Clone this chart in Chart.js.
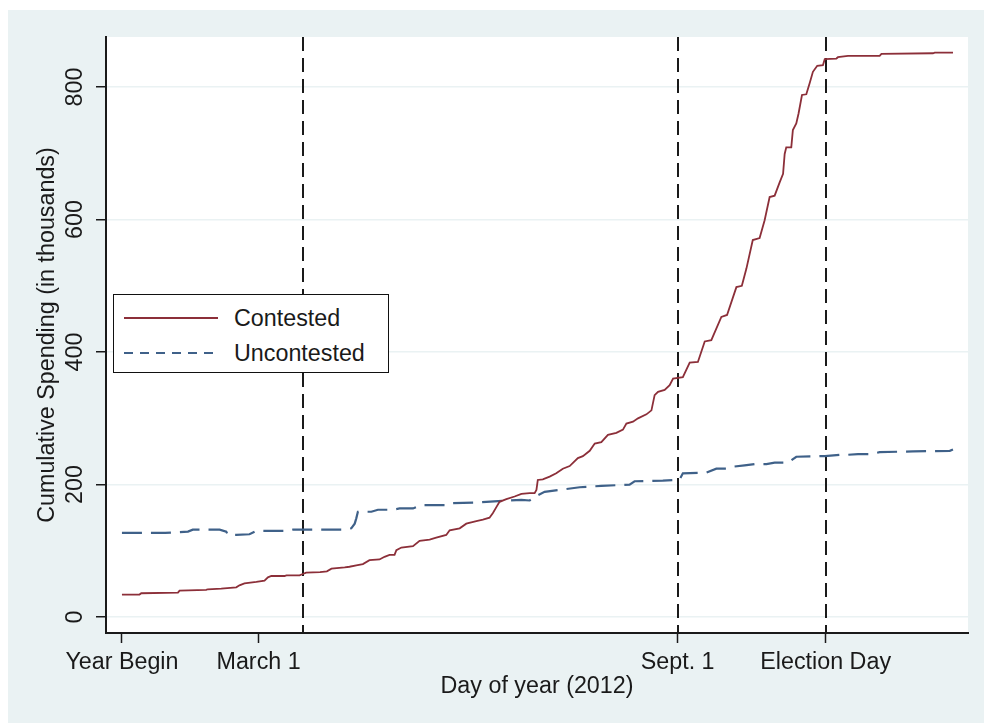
<!DOCTYPE html>
<html>
<head>
<meta charset="utf-8">
<script src="https://cdn.jsdelivr.net/npm/chart.js@4.4.1/dist/chart.umd.min.js"></script>
<style>
html,body{margin:0;padding:0;background:#fff;width:984px;height:723px;overflow:hidden;}
#panel{position:absolute;left:8px;top:10px;width:976px;height:713px;background:#eaf2f3;}
#chart{position:absolute;left:0;top:0;}
#legend{position:absolute;left:105px;top:284px;width:274px;height:77px;background:#fff;border:1.5px solid #111;font-family:"Liberation Sans",Arial,sans-serif;font-size:23.3px;color:#1a1a1a;}
#legend svg{position:absolute;left:0;top:0;}
#legend span{position:absolute;left:120px;line-height:26px;white-space:nowrap;}
</style>
</head>
<body>
<div id="panel">
  <canvas id="chart" width="976" height="713"></canvas>
  <div id="legend">
    <svg width="274" height="77">
      <line x1="10" y1="23" x2="104" y2="23" stroke="#8c2f39" stroke-width="1.8"/>
      <line x1="10" y1="58" x2="104" y2="58" stroke="#3f6189" stroke-width="2" stroke-dasharray="9 7"/>
    </svg>
    <span style="top:10px">Contested</span>
    <span style="top:45px">Uncontested</span>
  </div>
</div>
<script>
const tickDays = [1, 61, 245, 310];
const tickLabels = ['Year Begin', 'March 1', 'Sept. 1', 'Election Day'];
const markerDays = [80.5, 245, 310];
const yTicks = [0, 200, 400, 600, 800];

const contestedDays = [1, 8.7, 9.5, 25.6, 26.3, 38, 38.7, 44.6, 51.2, 52.6, 54.8, 60, 63.6, 65.1, 66.6, 72.4, 73.2, 79, 80.4, 81.9, 88, 91, 93, 98.8, 100.9, 103.9, 106.8, 109.7, 114.1, 116.3, 118.5, 120.7, 121.5, 123.7, 128.8, 131.7, 136.1, 139, 143.4, 144.9, 149.3, 152.2, 156.6, 159.5, 162.4, 163.9, 165.4, 166.8, 169.8, 173.4, 176.4, 180, 182.2, 183, 183.6, 185.8, 188.8, 191.7, 194.6, 197.6, 201.2, 203.4, 206.4, 208.6, 211.5, 214.4, 218.1, 221, 222.5, 225.4, 227.6, 231.3, 233.5, 234.9, 236.4, 239.3, 241.5, 243, 247.3, 250.3, 253.9, 256.9, 259.8, 264.2, 266.7, 270.8, 273.2, 275.2, 278, 281, 283.2, 285.4, 287.6, 289.8, 291.3, 292, 292.7, 294.9, 295.6, 297.1, 298.1, 299.6, 301.5, 303, 304.4, 306.3, 308.8, 309.6, 314.7, 315.4, 319.8, 333.7, 334.5, 357.1, 357.9, 365.9];
const contestedValues = [34, 34, 36, 37, 40, 41, 42, 43, 45, 48, 51, 53, 55, 60, 62, 62, 63, 63, 65, 67, 68, 69, 73, 75, 76, 78, 80, 86, 87, 91, 94, 94, 101, 105, 107, 115, 117, 120, 124, 131, 134, 141, 145, 147, 150, 157, 166, 174, 178, 182, 186, 187, 187, 192, 207, 208, 212, 217, 224, 228, 240, 243, 251, 262, 264, 275, 278, 283, 292, 295, 300, 306, 312, 335, 340, 343, 350, 360, 362, 384, 385, 416, 418, 453, 456, 498, 500, 526, 569, 572, 599, 634, 636, 656, 669, 699, 709, 709, 735, 745, 760, 788, 789, 806, 823, 832, 833, 842, 843, 845, 847, 847, 850, 851, 852, 852];

const uncontestedDays = [1, 20, 30, 32.1, 43.9, 46.8, 47.5, 51.2, 57, 60, 73.2, 76.1, 98.8, 101.7, 103.2, 103.9, 104.6, 110.5, 113.4, 120, 122.9, 128.8, 132.4, 142.7, 144.9, 156.6, 161, 176.4, 180, 183.6, 186.6, 202, 211.5, 223.9, 226.1, 238.5, 244.4, 245.9, 247.3, 257.6, 262, 266.4, 269.3, 274.4, 278.8, 284, 287.6, 293.5, 297.1, 309.6, 316.2, 319.8, 324.2, 330.1, 333.7, 348.4, 364.5, 365.9];
const uncontestedValues = [127, 127, 129, 132, 132, 129, 124, 124, 125, 130, 130, 132, 132, 134, 141, 149, 159, 159, 162, 162, 164, 164, 169, 169, 172, 173, 174, 177, 176, 184, 189, 196, 198, 200, 205, 206, 207, 208, 217, 218, 224, 224, 227, 229, 231, 231, 233, 233, 242, 243, 245, 245, 246, 246, 249, 250, 251, 253];

const FONT = '"Liberation Sans", Arial, sans-serif';
Chart.defaults.font.family = FONT;
Chart.defaults.font.size = 23.3;
Chart.defaults.color = '#1a1a1a';

const plotBgPlugin = {
  id: 'plotBg',
  beforeDraw(chart) {
    const {ctx, chartArea} = chart;
    ctx.save();
    ctx.fillStyle = '#ffffff';
    ctx.fillRect(chartArea.left, chartArea.top, chartArea.right - chartArea.left, chartArea.bottom - chartArea.top);
    ctx.restore();
  }
};

const markerPlugin = {
  id: 'markers',
  beforeDatasetsDraw(chart) {
    const {ctx, chartArea, scales} = chart;
    ctx.save();
    ctx.strokeStyle = '#1a1a1a';
    ctx.lineWidth = 2;
    ctx.setLineDash([14, 7]);
    markerDays.forEach(d => {
      const x = Math.round(scales.x.getPixelForValue(d));
      ctx.beginPath();
      ctx.moveTo(x, chartArea.top);
      ctx.lineTo(x, chartArea.bottom);
      ctx.stroke();
    });
    ctx.restore();
  }
};

new Chart(document.getElementById('chart'), {
  type: 'line',
  data: {
    datasets: [
      {
        label: 'Contested',
        data: contestedDays.map((d, i) => ({x: d, y: contestedValues[i]})),
        borderColor: '#8c2f39',
        borderWidth: 1.8,
        pointRadius: 0,
        tension: 0,
        fill: false
      },
      {
        label: 'Uncontested',
        data: uncontestedDays.map((d, i) => ({x: d, y: uncontestedValues[i]})),
        borderColor: '#3f6189',
        borderWidth: 2.2,
        borderDash: [20, 9],
        pointRadius: 0,
        tension: 0,
        fill: false
      }
    ]
  },
  options: {
    responsive: false,
    animation: false,
    devicePixelRatio: 1,
    events: [],
    layout: {padding: {top: 27, right: 16, left: 0, bottom: 0}},
    plugins: {legend: {display: false}, tooltip: {enabled: false}},
    scales: {
      x: {
        type: 'linear',
        min: -6,
        max: 372.5,
        afterBuildTicks: s => { s.ticks = tickDays.map(v => ({value: v})); },
        afterFit: s => { s.height = 90; },
        ticks: {
          autoSkip: false,
          maxRotation: 0,
          minRotation: 0,
          padding: 6,
          color: '#1a1a1a',
          callback: v => tickLabels[tickDays.indexOf(v)]
        },
        grid: {drawOnChartArea: false, drawTicks: true, tickLength: 10, tickColor: '#1a1a1a', tickWidth: 1.5},
        border: {display: true, color: '#1a1a1a', width: 2},
        title: {display: true, text: 'Day of year (2012)', color: '#1a1a1a', padding: {top: 0, bottom: 22}}
      },
      y: {
        type: 'linear',
        min: -24,
        max: 875.5,
        afterBuildTicks: s => { s.ticks = yTicks.map(v => ({value: v})); },
        afterFit: s => { s.width = 98; },
        ticks: {
          minRotation: 90,
          maxRotation: 90,
          crossAlign: 'center',
          padding: 1,
          color: '#1a1a1a'
        },
        grid: {color: '#eaf2f3', lineWidth: 1.5, drawTicks: true, tickLength: 10, tickColor: '#1a1a1a', tickWidth: 1.5},
        border: {display: true, color: '#1a1a1a', width: 2},
        title: {display: true, text: 'Cumulative Spending (in thousands)', color: '#1a1a1a', padding: {top: 26, bottom: 0}}
      }
    }
  },
  plugins: [plotBgPlugin, markerPlugin]
});
</script>
</body>
</html>
